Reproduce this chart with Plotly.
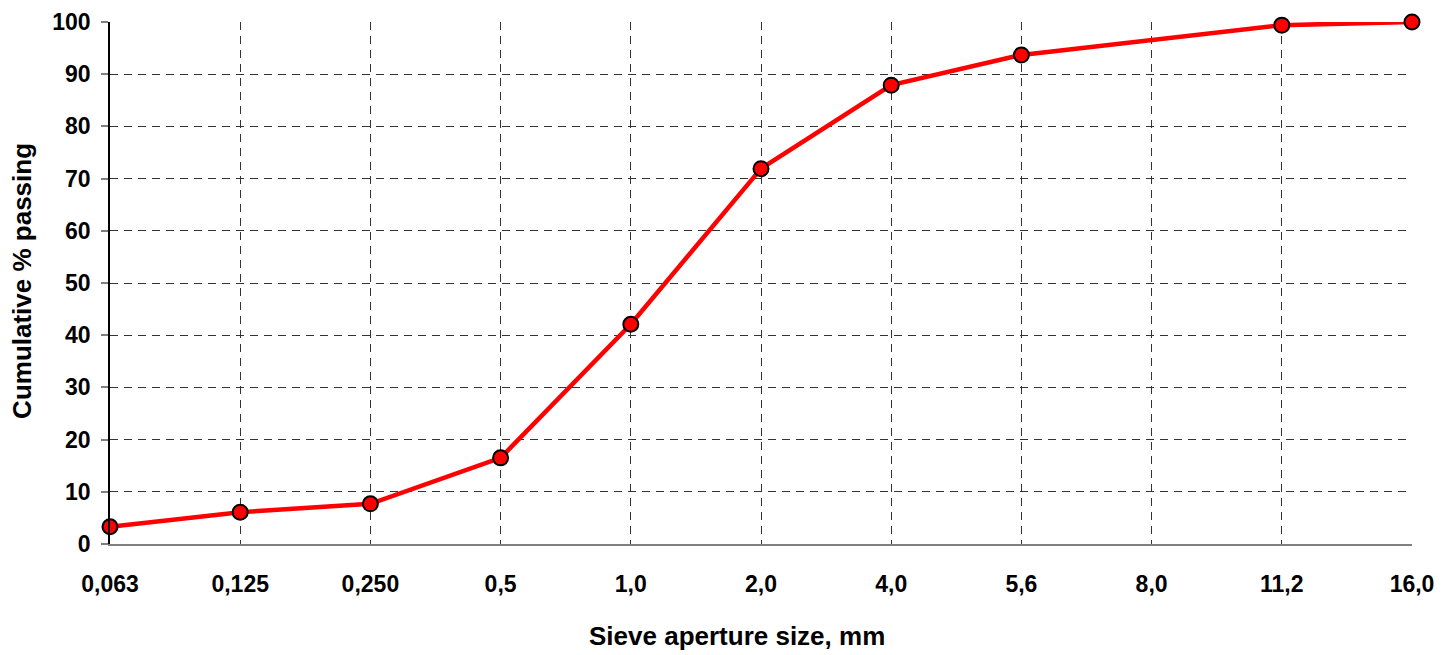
import plotly.graph_objects as go

sieve_labels = ["0,063", "0,125", "0,250", "0,5", "1,0", "2,0", "4,0", "5,6", "8,0", "11,2", "16,0"]
point_labels = ["0,063", "0,125", "0,250", "0,5", "1,0", "2,0", "4,0", "5,6", "11,2", "16,0"]
passing = [3.3, 6.1, 7.7, 16.5, 42.1, 71.9, 87.9, 93.7, 99.4, 100.0]

FONT = "Liberation Sans, Arial, sans-serif"

fig = go.Figure()
fig.add_trace(go.Scatter(
    x=point_labels, y=passing, mode="lines+markers",
    line=dict(color="#FF0000", width=4.5),
    marker=dict(size=15, color="#FF0000", line=dict(color="#000000", width=2)),
    cliponaxis=False, showlegend=False,
))

fig.update_layout(
    width=1448, height=647,
    margin=dict(l=102, r=44, t=14, b=111),
    plot_bgcolor="white", paper_bgcolor="white",
    font=dict(family=FONT, color="#000000"),
)
fig.update_xaxes(
    type="category", categoryorder="array", categoryarray=sieve_labels,
    range=[0, 10], automargin=False,
    showgrid=True, gridcolor="#333333", griddash="8px,6px", gridwidth=1,
    showline=True, linecolor="#808080", linewidth=2,
    ticks="", tickfont=dict(family=FONT, size=23, weight="bold"),
    ticklabelstandoff=18,
    zeroline=False,
)
fig.update_yaxes(
    range=[0, 100], tickvals=list(range(0, 101, 10)), automargin=False,
    showgrid=True, gridcolor="#333333", griddash="8px,6px", gridwidth=1,
    showline=True, linecolor="#000000", linewidth=1.5,
    ticks="outside", ticklen=7, tickcolor="#808080", tickwidth=1.5,
    tickfont=dict(family=FONT, size=23, weight="bold"),
    ticklabelstandoff=6,
    zeroline=False,
)
fig.add_annotation(
    text="Cumulative % passing", textangle=-90,
    xref="paper", yref="paper", x=-0.0676, y=0.504,
    xanchor="center", yanchor="middle", showarrow=False,
    font=dict(family=FONT, size=26, weight="bold"),
)
fig.add_annotation(
    text="Sieve aperture size, mm",
    xref="paper", yref="paper", x=0.4816, y=-0.176,
    xanchor="center", yanchor="middle", showarrow=False,
    font=dict(family=FONT, size=26, weight="bold"),
)

fig.write_html("out.html")
